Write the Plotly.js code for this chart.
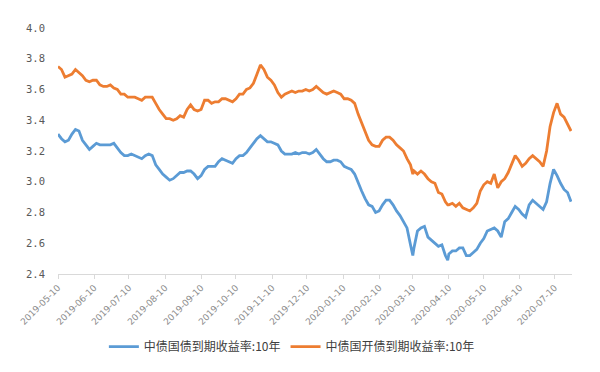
<!DOCTYPE html>
<html>
<head>
<meta charset="utf-8">
<script src="https://cdn.plot.ly/plotly-3.0.1.min.js"></script>
<style>html,body{margin:0;padding:0;background:#fff;}#chart{width:600px;height:372px;}</style>
</head>
<body>
<div id="chart"></div>
<script>
var dates = ["2019-05-10","2019-05-13","2019-05-16","2019-05-19","2019-05-22","2019-05-25","2019-05-28","2019-05-31","2019-06-03","2019-06-06","2019-06-09","2019-06-12","2019-06-15","2019-06-18","2019-06-21","2019-06-24","2019-06-27","2019-06-30","2019-07-03","2019-07-06","2019-07-09","2019-07-12","2019-07-15","2019-07-18","2019-07-21","2019-07-24","2019-07-27","2019-07-30","2019-08-02","2019-08-05","2019-08-08","2019-08-11","2019-08-14","2019-08-17","2019-08-20","2019-08-23","2019-08-26","2019-08-29","2019-09-01","2019-09-04","2019-09-07","2019-09-10","2019-09-13","2019-09-16","2019-09-19","2019-09-22","2019-09-25","2019-09-28","2019-10-01","2019-10-04","2019-10-07","2019-10-10","2019-10-13","2019-10-16","2019-10-19","2019-10-22","2019-10-25","2019-10-28","2019-10-31","2019-11-03","2019-11-06","2019-11-09","2019-11-12","2019-11-15","2019-11-18","2019-11-21","2019-11-24","2019-11-27","2019-11-30","2019-12-03","2019-12-06","2019-12-09","2019-12-12","2019-12-15","2019-12-18","2019-12-21","2019-12-24","2019-12-27","2019-12-30","2020-01-02","2020-01-05","2020-01-08","2020-01-11","2020-01-14","2020-01-17","2020-01-20","2020-01-23","2020-01-26","2020-01-29","2020-02-01","2020-02-04","2020-02-07","2020-02-10","2020-02-13","2020-02-16","2020-02-19","2020-02-22","2020-02-25","2020-02-28","2020-03-02","2020-03-05","2020-03-08","2020-03-10","2020-03-11","2020-03-14","2020-03-17","2020-03-20","2020-03-23","2020-03-26","2020-03-29","2020-04-01","2020-04-04","2020-04-07","2020-04-09","2020-04-10","2020-04-13","2020-04-16","2020-04-19","2020-04-22","2020-04-25","2020-04-28","2020-05-01","2020-05-04","2020-05-07","2020-05-10","2020-05-13","2020-05-16","2020-05-19","2020-05-22","2020-05-25","2020-05-28","2020-05-31","2020-06-03","2020-06-06","2020-06-09","2020-06-12","2020-06-15","2020-06-18","2020-06-21","2020-06-24","2020-06-27","2020-06-30","2020-07-03","2020-07-06","2020-07-09","2020-07-12","2020-07-15","2020-07-18","2020-07-21","2020-07-24"];

// 中债国债到期收益率:10年
var govYield = [3.31,3.28,3.26,3.27,3.31,3.34,3.33,3.27,3.24,3.21,3.23,3.25,3.24,3.24,3.24,3.24,3.25,3.22,3.19,3.17,3.17,3.18,3.17,3.16,3.15,3.17,3.18,3.17,3.11,3.08,3.05,3.03,3.01,3.02,3.04,3.06,
3.06,3.07,3.07,3.05,3.02,3.04,3.08,3.10,3.10,3.10,3.13,3.15,3.14,3.13,3.12,3.15,3.17,3.17,3.19,3.22,3.25,3.28,3.30,3.28,3.26,3.26,3.25,3.24,3.20,3.18,3.18,3.18,3.19,3.18,3.19,3.19,
3.18,3.19,3.21,3.18,3.15,3.13,3.13,3.14,3.14,3.13,3.10,3.09,3.08,3.05,2.99,2.94,2.89,2.85,2.84,2.80,2.81,2.85,2.88,2.88,2.85,2.81,2.78,2.74,2.70,2.59,
2.52,
2.57,2.68,2.70,2.71,2.64,2.62,2.60,2.58,2.59,2.52,
2.49,
2.53,2.55,2.55,2.57,2.57,2.52,2.52,2.54,2.56,2.60,2.63,2.68,2.69,2.70,2.68,2.64,2.74,2.76,2.80,2.84,2.82,2.79,2.77,2.85,2.88,2.86,2.84,2.82,2.87,2.99,3.08,3.04,2.99,2.95,2.93,2.87];

// 中债国开债到期收益率:10年
var cdbYield = [3.75,3.73,3.68,3.69,3.70,3.73,3.71,3.69,3.66,3.65,3.66,3.66,3.63,3.62,3.62,3.63,3.61,3.60,3.57,3.57,3.55,3.55,3.55,3.54,3.53,3.55,3.55,3.55,3.51,3.47,3.44,3.41,3.41,3.40,3.41,3.43,
3.42,3.47,3.50,3.47,3.46,3.47,3.53,3.53,3.51,3.52,3.52,3.54,3.54,3.53,3.52,3.54,3.57,3.57,3.60,3.61,3.64,3.70,3.76,3.73,3.68,3.66,3.63,3.58,3.55,3.57,3.58,3.59,3.58,3.59,3.59,3.60,
3.59,3.60,3.62,3.60,3.58,3.57,3.58,3.59,3.58,3.57,3.54,3.54,3.53,3.51,3.44,3.38,3.32,3.27,3.24,3.23,3.23,3.27,3.29,3.29,3.27,3.24,3.22,3.20,3.15,3.11,
3.05,
3.07,3.05,3.07,3.05,3.02,3.00,2.99,2.93,2.92,2.87,
2.85,
2.85,2.86,2.84,2.86,2.83,2.82,2.81,2.83,2.86,2.94,2.98,3.00,2.99,3.05,2.96,3.00,3.02,3.06,3.12,3.17,3.14,3.10,3.12,3.15,3.17,3.15,3.13,3.10,3.20,3.36,3.45,3.51,3.44,3.42,3.38,3.33];

var seriesNames = ["中债国债到期收益率:10年", "中债国开债到期收益率:10年"];
var seriesColors = ["#5B9BD5", "#ED7D31"];

var traces = [
  {x: dates, y: govYield, name: seriesNames[0], type: "scatter", mode: "lines",
   line: {color: seriesColors[0], width: 2.8}},
  {x: dates, y: cdbYield, name: seriesNames[1], type: "scatter", mode: "lines",
   line: {color: seriesColors[1], width: 2.8}}
];

var layout = {
  width: 600, height: 372,
  margin: {l: 58, r: 28, t: 28, b: 97},
  paper_bgcolor: "#ffffff", plot_bgcolor: "#ffffff",
  showlegend: true,
  legend: {orientation: "h", x: 0.455, xanchor: "center", y: -0.29, yanchor: "middle",
    font: {family: "Noto Sans CJK SC, sans-serif", size: 12, color: "#404040"},
    itemwidth: 30, tracegroupgap: 0},
  xaxis: {
    type: "date",
    range: ["2019-05-10", "2020-07-24 20:00"],
    tick0: "2019-05-10", dtick: "M1", tickformat: "%Y-%m-%d",
    tickangle: -45,
    tickfont: {family: "DejaVu Sans, sans-serif", size: 9, color: "#8c8c8c"},
    showgrid: false, zeroline: false,
    showline: true, linecolor: "#d9d9d9", linewidth: 1,
    ticks: "outside", ticklen: 4, tickcolor: "#d9d9d9"
  },
  yaxis: {
    range: [2.4, 4.0], dtick: 0.2, tick0: 2.4, tickformat: ".1f",
    tickfont: {family: "DejaVu Sans Mono, monospace", size: 10.5, color: "#595959"},
    showgrid: false, zeroline: false, showline: false, ticks: "",
    ticklabelstandoff: 12
  }
};

Plotly.newPlot("chart", traces, layout, {staticPlot: true, displayModeBar: false});
</script>
</body>
</html>
